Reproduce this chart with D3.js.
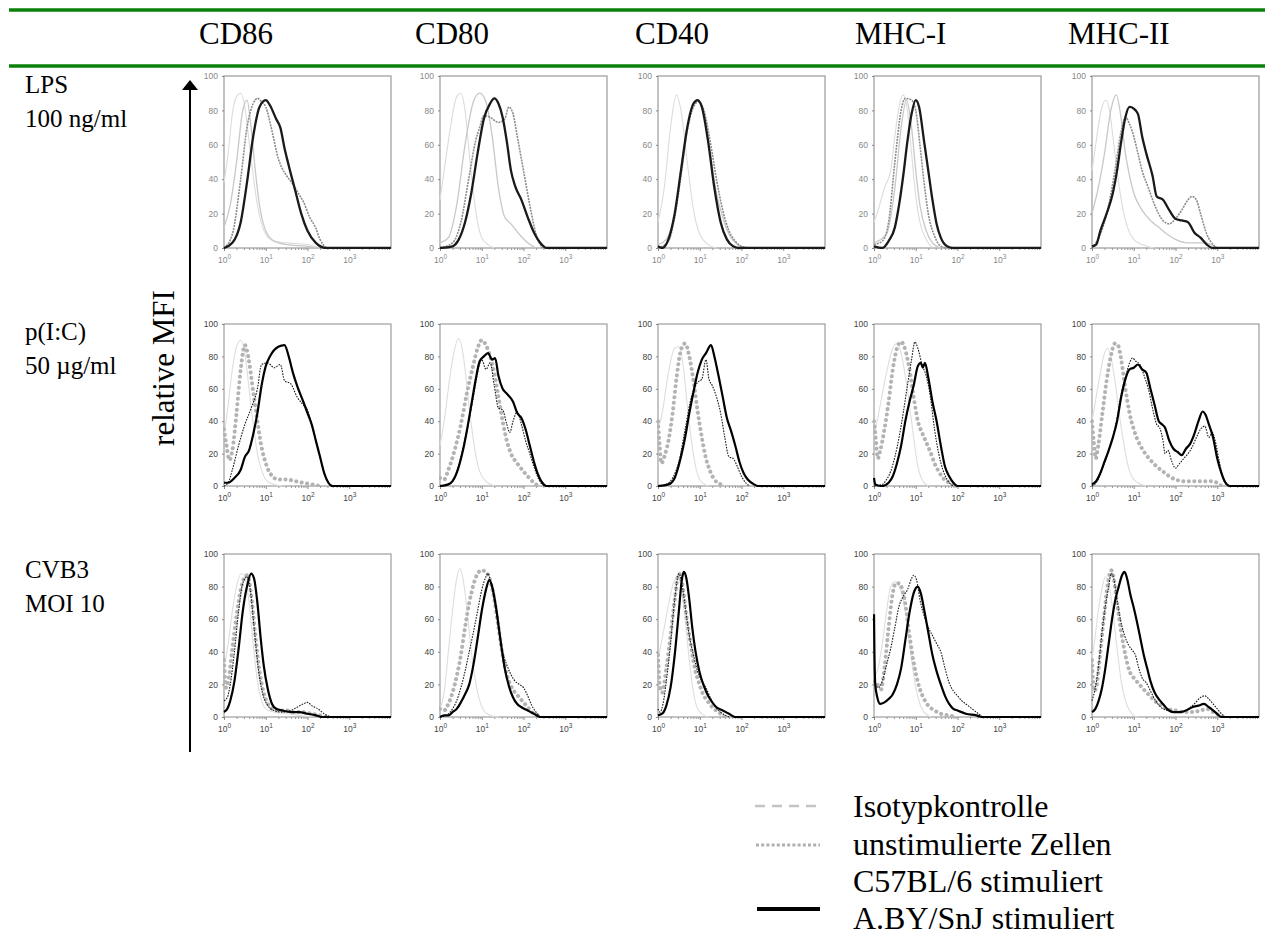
<!DOCTYPE html>
<html>
<head>
<meta charset="utf-8">
<script src="https://cdn.jsdelivr.net/npm/d3@7"></script>
<style>
  body { margin: 0; background: #fff; }
  .tick text { font-family: Arial, "Liberation Sans", sans-serif; }
</style>
</head>
<body>
<script>
// column / row labels
var markers = ["CD86", "CD80", "CD40", "MHC-I", "MHC-II"];
var treatments = [["LPS", "100 ng/ml"], ["p(I:C)", "50 µg/ml"], ["CVB3", "MOI 10"]];
var seriesNames = ["Isotypkontrolle", "unstimulierte Zellen", "C57BL/6 stimuliert", "A.BY/SnJ stimuliert"];
var xTickExp = [0, 1, 2, 3];
var yTicks = [0, 20, 40, 60, 80, 100];

// each panel: [isotype, unstimulated, C57BL/6, A.BY/SnJ], points are [log10 intensity, % of max]
var lpsCD86 = [
  [[0,38],[0.1,55],[0.2,78],[0.3,88],[0.4,90],[0.5,82],[0.6,62],[0.7,42],[0.8,25],[0.9,14],[1.0,8],[1.2,4],[1.5,3],[2.0,2],[2.3,0]],
  [[0,12],[0.15,25],[0.3,50],[0.45,80],[0.55,86],[0.65,70],[0.75,45],[0.85,25],[1.0,10],[1.2,4],[1.5,2],[2.0,1],[2.3,0]],
  [[0,0],[0.2,8],[0.4,40],[0.55,70],[0.7,84],[0.8,87],[0.9,85],[1.0,82],[1.15,68],[1.3,52],[1.4,46],[1.5,42],[1.65,37],[1.8,31],[1.9,27],[2.05,18],[2.19,12],[2.3,5],[2.45,0]],
  [[0,0],[0.2,3],[0.4,15],[0.55,38],[0.7,65],[0.85,82],[1.0,86],[1.1,83],[1.25,75],[1.35,70],[1.45,58],[1.55,48],[1.7,34],[1.85,20],[2.0,10],[2.2,3],[2.45,0],[4,0]]
];
var lpsCD80 = [
  [[0,28],[0.1,45],[0.25,70],[0.4,88],[0.5,90],[0.6,80],[0.7,55],[0.8,32],[0.9,15],[1.0,6],[1.15,2],[1.3,0]],
  [[0,3],[0.2,6],[0.4,25],[0.6,60],[0.8,85],[0.95,90],[1.1,85],[1.25,65],[1.4,35],[1.55,18],[1.7,14],[1.9,8],[2.1,3],[2.3,0]],
  [[0,0],[0.3,3],[0.5,15],[0.7,42],[0.85,62],[0.95,70],[1.05,77],[1.2,76],[1.4,73],[1.55,75],[1.65,82],[1.75,78],[1.85,65],[2.0,45],[2.15,25],[2.3,8],[2.45,0]],
  [[0,0],[0.3,1],[0.45,5],[0.6,15],[0.75,32],[0.9,55],[1.05,75],[1.2,84],[1.3,87],[1.4,84],[1.5,76],[1.6,62],[1.7,45],[1.8,36],[1.95,28],[2.1,18],[2.25,9],[2.4,3],[2.55,0],[4,0]]
];
var lpsCD40 = [
  [[0,15],[0.15,35],[0.3,70],[0.44,89],[0.55,80],[0.7,50],[0.85,22],[1.0,8],[1.2,2],[1.4,0]],
  [[0,2],[0.2,5],[0.4,20],[0.6,55],[0.8,80],[0.95,86],[1.1,78],[1.25,55],[1.4,32],[1.55,18],[1.7,8],[1.9,2],[2.1,0]],
  [[0,0],[0.25,4],[0.4,18],[0.55,42],[0.7,68],[0.85,82],[0.97,85],[1.1,80],[1.25,62],[1.4,40],[1.55,22],[1.7,10],[1.85,4],[2.0,1],[2.2,0]],
  [[0,1],[0.1,0],[0.25,5],[0.4,20],[0.55,45],[0.7,70],[0.85,84],[0.95,86],[1.05,82],[1.2,62],[1.35,35],[1.5,15],[1.65,5],[1.8,1],[1.95,0],[4,0]]
];
var lpsMHCI = [
  [[0,15],[0.1,22],[0.25,35],[0.4,45],[0.5,65],[0.6,82],[0.7,89],[0.8,80],[0.9,55],[1.0,30],[1.1,15],[1.25,5],[1.4,0]],
  [[0,3],[0.3,8],[0.5,35],[0.65,70],[0.78,86],[0.9,70],[1.0,45],[1.1,25],[1.25,10],[1.4,3],[1.6,0]],
  [[0,2],[0.2,4],[0.35,15],[0.5,50],[0.65,80],[0.75,87],[0.9,86],[1.0,80],[1.1,60],[1.2,38],[1.3,20],[1.45,7],[1.6,1],[1.75,0]],
  [[0,1],[0.2,0],[0.35,4],[0.5,12],[0.6,25],[0.7,42],[0.8,62],[0.9,78],[1.0,86],[1.08,82],[1.2,62],[1.3,45],[1.4,28],[1.5,14],[1.6,6],[1.75,1],[1.9,0],[4,0]]
];
var lpsMHCII = [
  [[0,45],[0.1,62],[0.2,78],[0.33,86],[0.42,80],[0.5,65],[0.6,45],[0.7,28],[0.85,12],[1.0,5],[1.2,2],[1.5,0]],
  [[0,20],[0.15,35],[0.3,55],[0.45,80],[0.58,89],[0.7,75],[0.8,55],[0.9,42],[1.0,32],[1.2,22],[1.4,16],[1.6,12],[1.8,8],[2.0,5],[2.3,3],[2.7,3],[3.0,0]],
  [[0,0],[0.2,8],[0.4,25],[0.55,45],[0.7,68],[0.8,76],[0.9,72],[1.0,65],[1.1,55],[1.2,45],[1.35,35],[1.5,25],[1.7,16],[1.85,14],[2.0,17],[2.15,22],[2.3,28],[2.4,30],[2.5,28],[2.6,20],[2.75,8],[2.9,2],[3.0,0]],
  [[0,1],[0.1,2],[0.2,10],[0.35,20],[0.5,32],[0.6,45],[0.7,62],[0.8,76],[0.9,82],[1.0,81],[1.1,78],[1.2,65],[1.3,55],[1.45,42],[1.55,30],[1.7,28],[1.85,22],[2.0,17],[2.15,16],[2.3,15],[2.45,9],[2.6,6],[2.75,2],[2.9,0],[4,0]]
];

var picCD86 = [
  [[0,30],[0.1,50],[0.2,72],[0.3,86],[0.4,90],[0.5,82],[0.6,60],[0.7,38],[0.8,20],[0.9,10],[1.0,4],[1.2,1],[1.4,0]],
  [[0,35],[0.06,25],[0.13,16],[0.2,22],[0.3,45],[0.4,72],[0.5,87],[0.58,80],[0.7,58],[0.8,40],[0.9,24],[1.0,14],[1.1,8],[1.3,4],[1.5,4],[1.7,3],[1.9,2],[2.1,1],[2.3,0]],
  [[0,0],[0.1,2],[0.2,10],[0.35,25],[0.5,38],[0.65,48],[0.8,60],[0.9,75],[1.05,76],[1.2,73],[1.35,75],[1.45,65],[1.6,63],[1.75,55],[1.9,50],[2.0,47],[2.1,38],[2.2,28],[2.3,18],[2.4,8],[2.5,2],[2.6,0]],
  [[0,2],[0.1,2],[0.25,5],[0.4,10],[0.5,18],[0.6,22],[0.7,32],[0.8,45],[0.9,62],[1.0,74],[1.1,80],[1.3,86],[1.45,87],[1.55,80],[1.65,70],[1.75,62],[1.9,52],[2.0,45],[2.1,38],[2.2,28],[2.3,18],[2.4,8],[2.5,2],[2.6,0],[4,0]]
];
var picCD80 = [
  [[0,25],[0.1,40],[0.2,60],[0.3,78],[0.45,91],[0.55,82],[0.65,60],[0.75,38],[0.85,20],[0.95,9],[1.1,3],[1.3,0]],
  [[0,5],[0.1,4],[0.2,10],[0.35,22],[0.5,38],[0.65,58],[0.8,75],[0.9,85],[1.0,90],[1.1,87],[1.2,80],[1.3,70],[1.4,55],[1.5,40],[1.6,28],[1.7,20],[1.85,14],[2.0,9],[2.1,6],[2.25,2],[2.35,0]],
  [[0,0],[0.2,1],[0.35,5],[0.5,18],[0.65,35],[0.8,55],[0.9,70],[1.0,78],[1.1,72],[1.2,76],[1.3,62],[1.4,48],[1.5,47],[1.6,38],[1.67,33],[1.75,40],[1.85,46],[1.95,38],[2.05,28],[2.15,20],[2.25,12],[2.35,5],[2.45,1],[2.55,0]],
  [[0,0],[0.2,1],[0.3,3],[0.45,12],[0.55,22],[0.65,35],[0.75,50],[0.85,65],[0.95,77],[1.05,80],[1.15,82],[1.25,78],[1.32,79],[1.4,68],[1.5,60],[1.6,57],[1.75,52],[1.85,45],[1.95,42],[2.05,35],[2.15,25],[2.25,15],[2.35,7],[2.45,2],[2.55,0],[4,0]]
];
var picCD40 = [
  [[0,35],[0.1,45],[0.25,70],[0.4,85],[0.5,86],[0.6,75],[0.7,50],[0.8,28],[0.9,12],[1.0,4],[1.2,0]],
  [[0,40],[0.04,25],[0.08,14],[0.15,18],[0.25,28],[0.35,45],[0.45,68],[0.55,84],[0.65,88],[0.75,80],[0.85,65],[0.95,46],[1.05,30],[1.15,17],[1.25,9],[1.35,4],[1.5,1],[1.6,0]],
  [[0,0],[0.2,1],[0.35,5],[0.5,15],[0.65,35],[0.8,55],[0.95,64],[1.05,66],[1.15,78],[1.22,66],[1.3,62],[1.4,55],[1.5,45],[1.6,30],[1.7,18],[1.8,17],[1.9,12],[2.0,6],[2.1,2],[2.2,0]],
  [[0,0],[0.25,1],[0.4,5],[0.55,18],[0.65,30],[0.75,45],[0.85,58],[0.95,70],[1.05,78],[1.15,82],[1.27,87],[1.35,80],[1.45,68],[1.55,55],[1.65,42],[1.75,34],[1.85,25],[1.95,15],[2.05,8],[2.15,4],[2.3,1],[2.4,0],[4,0]]
];
var picMHCI = [
  [[0,30],[0.15,50],[0.3,70],[0.45,85],[0.55,88],[0.65,82],[0.75,68],[0.85,50],[0.95,30],[1.05,12],[1.15,4],[1.3,0]],
  [[0,40],[0.04,30],[0.09,17],[0.15,22],[0.25,35],[0.35,52],[0.45,72],[0.55,85],[0.65,89],[0.75,84],[0.85,72],[0.95,55],[1.05,40],[1.15,33],[1.25,27],[1.35,21],[1.45,14],[1.55,9],[1.65,5],[1.8,2],[1.9,0]],
  [[0,0],[0.2,1],[0.3,4],[0.4,9],[0.5,18],[0.6,30],[0.7,45],[0.8,62],[0.9,78],[0.98,89],[1.05,85],[1.15,75],[1.25,68],[1.35,55],[1.45,35],[1.55,20],[1.65,10],[1.75,4],[1.9,0]],
  [[0,5],[0.03,1],[0.2,0],[0.35,2],[0.45,6],[0.55,14],[0.65,25],[0.75,40],[0.85,52],[0.95,62],[1.05,74],[1.12,76],[1.17,73],[1.22,76],[1.3,67],[1.4,52],[1.5,40],[1.6,25],[1.7,12],[1.8,6],[1.9,2],[2.0,0],[4,0]]
];
var picMHCII = [
  [[0,40],[0.1,55],[0.2,70],[0.3,82],[0.38,85],[0.45,80],[0.55,65],[0.65,45],[0.75,28],[0.85,14],[0.95,6],[1.1,2],[1.3,0]],
  [[0,40],[0.04,28],[0.09,17],[0.15,25],[0.25,45],[0.35,65],[0.45,80],[0.55,88],[0.62,87],[0.7,78],[0.8,60],[0.9,45],[1.0,35],[1.1,28],[1.25,21],[1.4,16],[1.55,12],[1.7,9],[1.85,6],[2.0,4],[2.2,3],[2.5,3],[2.8,3],[3.0,2],[3.1,0]],
  [[0,0],[0.1,2],[0.2,7],[0.3,14],[0.4,22],[0.5,30],[0.6,42],[0.7,57],[0.8,67],[0.9,76],[0.97,79],[1.05,77],[1.15,75],[1.25,68],[1.35,60],[1.45,48],[1.55,38],[1.62,36],[1.7,28],[1.75,20],[1.82,22],[1.9,16],[2.0,11],[2.1,14],[2.2,17],[2.3,20],[2.4,24],[2.5,30],[2.6,35],[2.7,37],[2.8,30],[2.88,33],[2.95,28],[3.05,15],[3.15,4],[3.25,0]],
  [[0,1],[0.1,3],[0.2,8],[0.3,15],[0.4,22],[0.5,30],[0.6,40],[0.7,55],[0.8,66],[0.9,72],[1.0,73],[1.1,75],[1.2,72],[1.3,70],[1.4,60],[1.5,50],[1.6,40],[1.68,38],[1.75,36],[1.85,28],[1.95,23],[2.05,21],[2.15,19],[2.25,23],[2.35,26],[2.45,32],[2.55,40],[2.65,46],[2.72,44],[2.8,38],[2.9,30],[3.0,17],[3.1,8],[3.2,2],[3.3,0],[4,0]]
];

var cvbCD86 = [
  [[0,30],[0.1,45],[0.2,65],[0.3,80],[0.42,88],[0.5,86],[0.6,70],[0.7,45],[0.8,22],[0.9,10],[1.0,5],[1.2,3],[1.5,2],[1.8,1],[2.1,0]],
  [[0,35],[0.05,18],[0.12,25],[0.2,42],[0.3,62],[0.4,78],[0.5,86],[0.56,87],[0.65,75],[0.75,50],[0.85,28],[0.95,15],[1.05,8],[1.15,5],[1.3,4],[1.5,4],[1.7,3],[1.9,3],[2.1,2],[2.3,1],[2.5,0]],
  [[0,10],[0.08,12],[0.15,20],[0.25,40],[0.35,65],[0.45,82],[0.55,86],[0.63,78],[0.72,55],[0.82,30],[0.92,15],[1.05,7],[1.2,4],[1.4,3],[1.6,4],[1.75,6],[1.9,8],[2.0,9],[2.1,7],[2.25,5],[2.4,2],[2.55,0]],
  [[0,3],[0.08,5],[0.15,10],[0.25,22],[0.35,42],[0.45,65],[0.55,80],[0.65,88],[0.72,85],[0.8,70],[0.88,48],[0.95,32],[1.05,17],[1.15,8],[1.25,5],[1.4,4],[1.6,3],[1.8,3],[2.0,2],[2.2,1],[2.35,0],[4,0]]
];
var cvbCD80 = [
  [[0,5],[0.1,15],[0.2,40],[0.3,65],[0.4,85],[0.47,91],[0.55,85],[0.65,65],[0.75,40],[0.85,22],[0.95,10],[1.05,4],[1.2,1],[1.4,0]],
  [[0,5],[0.1,4],[0.2,8],[0.3,15],[0.4,25],[0.5,38],[0.6,55],[0.7,70],[0.8,81],[0.9,88],[1.0,90],[1.1,89],[1.2,84],[1.3,72],[1.4,55],[1.5,38],[1.6,26],[1.7,19],[1.8,15],[1.9,12],[2.0,9],[2.1,6],[2.2,3],[2.35,1],[2.45,0]],
  [[0,0],[0.15,1],[0.3,5],[0.4,10],[0.5,18],[0.6,28],[0.7,40],[0.8,52],[0.9,65],[1.0,78],[1.1,86],[1.15,88],[1.22,82],[1.3,72],[1.4,55],[1.5,40],[1.6,32],[1.7,26],[1.8,22],[1.9,20],[2.0,18],[2.1,13],[2.2,7],[2.3,3],[2.4,0]],
  [[0,0],[0.1,1],[0.2,1],[0.3,3],[0.4,5],[0.5,9],[0.6,14],[0.7,20],[0.8,32],[0.9,48],[1.0,65],[1.1,78],[1.18,84],[1.25,80],[1.35,66],[1.45,47],[1.55,30],[1.65,19],[1.75,12],[1.85,8],[1.95,6],[2.1,4],[2.25,2],[2.4,0],[4,0]]
];
var cvbCD40 = [
  [[0,35],[0.1,48],[0.2,62],[0.3,75],[0.4,84],[0.48,86],[0.55,80],[0.65,60],[0.75,35],[0.85,15],[0.95,5],[1.1,1],[1.2,0]],
  [[0,38],[0.05,18],[0.1,15],[0.2,30],[0.3,50],[0.4,72],[0.5,88],[0.58,82],[0.68,62],[0.78,45],[0.88,30],[0.98,21],[1.08,14],[1.18,10],[1.3,6],[1.45,3],[1.6,0]],
  [[0,5],[0.05,3],[0.12,8],[0.2,22],[0.3,45],[0.4,72],[0.5,88],[0.57,82],[0.65,68],[0.75,50],[0.85,38],[0.95,28],[1.05,22],[1.15,18],[1.25,12],[1.35,7],[1.5,3],[1.7,0]],
  [[0,1],[0.1,2],[0.2,7],[0.3,18],[0.4,38],[0.5,65],[0.57,84],[0.62,89],[0.68,85],[0.75,72],[0.82,55],[0.9,40],[1.0,27],[1.1,19],[1.2,13],[1.3,9],[1.4,6],[1.55,4],[1.7,2],[1.85,0],[4,0]]
];
var cvbMHCI = [
  [[0,25],[0.1,30],[0.2,45],[0.3,65],[0.4,80],[0.5,83],[0.6,80],[0.7,72],[0.8,55],[0.9,35],[1.0,18],[1.1,8],[1.2,3],[1.35,0]],
  [[0,22],[0.08,20],[0.17,17],[0.25,30],[0.35,55],[0.45,76],[0.52,82],[0.6,82],[0.68,78],[0.76,68],[0.84,52],[0.92,38],[1.0,27],[1.1,17],[1.2,11],[1.3,7],[1.45,4],[1.6,2],[1.8,1],[1.95,0]],
  [[0,22],[0.1,18],[0.2,22],[0.3,32],[0.4,42],[0.5,55],[0.6,68],[0.7,74],[0.8,78],[0.9,85],[0.95,87],[1.02,84],[1.1,72],[1.2,62],[1.3,55],[1.4,50],[1.5,45],[1.6,40],[1.7,30],[1.8,21],[1.9,16],[2.0,13],[2.1,10],[2.2,8],[2.3,6],[2.4,4],[2.5,2],[2.6,0]],
  [[0,63],[0.01,40],[0.03,20],[0.08,12],[0.15,8],[0.25,9],[0.35,11],[0.45,14],[0.55,20],[0.65,30],[0.75,47],[0.85,64],[0.95,76],[1.05,80],[1.12,76],[1.2,66],[1.3,52],[1.4,38],[1.5,28],[1.6,20],[1.7,13],[1.8,8],[1.9,5],[2.0,4],[2.2,2],[2.45,1],[2.6,0],[4,0]]
];
var cvbMHCII = [
  [[0,35],[0.08,50],[0.15,65],[0.25,80],[0.32,86],[0.4,82],[0.5,65],[0.6,42],[0.7,22],[0.8,10],[0.9,4],[1.0,1],[1.1,0]],
  [[0,35],[0.05,16],[0.1,18],[0.18,35],[0.28,60],[0.38,82],[0.46,90],[0.52,85],[0.6,70],[0.7,52],[0.8,38],[0.9,28],[1.0,24],[1.1,21],[1.2,18],[1.35,14],[1.5,10],[1.65,7],[1.8,5],[2.0,4],[2.2,3],[2.4,3],[2.6,4],[2.75,5],[2.9,3],[3.05,1],[3.15,0]],
  [[0,10],[0.08,18],[0.16,32],[0.24,52],[0.32,68],[0.4,80],[0.46,88],[0.52,85],[0.6,72],[0.68,60],[0.78,50],[0.88,44],[0.96,41],[1.04,38],[1.12,30],[1.2,24],[1.3,21],[1.4,16],[1.5,11],[1.65,6],[1.8,4],[2.0,3],[2.15,3],[2.3,5],[2.45,8],[2.6,12],[2.7,13],[2.8,11],[2.9,8],[3.0,5],[3.1,2],[3.2,0]],
  [[0,3],[0.08,5],[0.16,10],[0.24,18],[0.32,30],[0.4,45],[0.48,60],[0.56,72],[0.64,80],[0.72,87],[0.78,89],[0.84,85],[0.92,75],[1.0,67],[1.08,58],[1.16,48],[1.24,38],[1.32,30],[1.4,22],[1.5,15],[1.6,11],[1.7,8],[1.8,5],[1.95,3],[2.1,3],[2.25,4],[2.4,6],[2.55,7],[2.68,8],[2.8,6],[2.95,3],[3.1,0],[4,0]]
];

var panels = [
  [lpsCD86, lpsCD80, lpsCD40, lpsMHCI, lpsMHCII],
  [picCD86, picCD80, picCD40, picMHCI, picMHCII],
  [cvbCD86, cvbCD80, cvbCD40, cvbMHCI, cvbMHCII]
];

// layout
var width = 1265, height = 949;
var colX = [224, 440, 658, 874, 1092], pw = 167;
var rowY = [76, 324, 554], rowH = [172, 162, 163];
var headX = [199, 415, 635, 855, 1068];
var serif = "'Liberation Serif', 'Times New Roman', serif";

// line styles: first row (LPS) was scanned differently
var styleStim = [
  {stroke: "#dedede", w: 1.1, dash: null},
  {stroke: "#b3b3b3", w: 4, dash: "0.1,5.4", cap: "round"},
  {stroke: "#1a1a1a", w: 1.1, dash: "1.6,1.2"},
  {stroke: "#000", w: 2.2, dash: null}
];
var styleLps = [
  {stroke: "#dcdcdc", w: 1.1, dash: null},
  {stroke: "#c8c8c8", w: 1.3, dash: null},
  {stroke: "#8c8c8c", w: 1.6, dash: "2,1"},
  {stroke: "#1a1a1a", w: 2.3, dash: null}
];

var svg = d3.select("body").append("svg")
  .attr("width", width).attr("height", height);

// green rules
[10, 66].forEach(function(yy) {
  svg.append("line").attr("x1", 9).attr("x2", width).attr("y1", yy).attr("y2", yy)
    .attr("stroke", "#0a800a").attr("stroke-width", 3.5);
});

// column headers
svg.selectAll(".head").data(markers).enter().append("text")
  .attr("class", "head")
  .attr("x", function(d, i) { return headX[i]; })
  .attr("y", 44)
  .style("font-family", serif).style("font-size", "31px")
  .text(function(d) { return d; });

// row labels
var rowBase = [93, 340, 578];
treatments.forEach(function(t, r) {
  t.forEach(function(line, k) {
    svg.append("text").attr("x", 25).attr("y", rowBase[r] + k * 34)
      .style("font-family", serif).style("font-size", "25px")
      .text(line);
  });
});

// vertical arrow + label
svg.append("line").attr("x1", 190).attr("x2", 190).attr("y1", 88).attr("y2", 752)
  .attr("stroke", "#000").attr("stroke-width", 2);
svg.append("path").attr("d", "M182,90 L198,90 L190,80 Z").attr("fill", "#000");
svg.append("text")
  .attr("transform", "translate(174,368) rotate(-90)")
  .attr("text-anchor", "middle")
  .style("font-family", serif).style("font-size", "31px")
  .text("relative MFI");

var minors = [];
[1, 10, 100, 1000].forEach(function(b) {
  for (var k = 2; k < 10; k++) minors.push(b * k);
});

function drawPanel(r, c) {
  var h = rowH[r];
  var styles = r == 0 ? styleLps : styleStim;
  var g = svg.append("g").attr("transform", "translate(" + colX[c] + "," + rowY[r] + ")");

  var x = d3.scaleLog().domain([1, 1e4]).range([0, pw]);
  var y = d3.scaleLinear().domain([0, 100]).range([h, 0]);

  var clipId = "clip" + r + "_" + c;
  g.append("clipPath").attr("id", clipId).append("rect")
    .attr("x", -1).attr("y", -1).attr("width", pw + 2).attr("height", h + 2);

  g.append("rect").attr("width", pw).attr("height", h)
    .attr("fill", "none").attr("stroke", r == 0 ? "#a8a8a8" : "#8a8a8a")
    .attr("stroke-width", r == 0 ? 1.4 : 1);

  var labelCol = r == 0 ? "#888" : "#444";

  var yAxis = g.append("g").call(d3.axisLeft(y).tickValues(yTicks).tickSize(2).tickSizeOuter(0));
  yAxis.select(".domain").remove();
  yAxis.selectAll("line").attr("stroke", "#888");
  yAxis.selectAll("text").attr("fill", labelCol).style("font-size", "8.5px").attr("x", -6);

  var xMinor = g.append("g").attr("transform", "translate(0," + h + ")")
    .call(d3.axisBottom(x).tickValues(minors).tickSize(2).tickFormat(""));
  xMinor.select(".domain").remove();
  xMinor.selectAll("line").attr("stroke", "#999");

  var xAxis = g.append("g").attr("transform", "translate(0," + h + ")")
    .call(d3.axisBottom(x).tickValues(xTickExp.map(function(e) { return Math.pow(10, e); }))
      .tickSize(3).tickFormat(""));
  xAxis.select(".domain").remove();
  xAxis.selectAll("line").attr("stroke", "#888");
  xAxis.selectAll(".tick").append("text")
    .attr("y", 15).attr("text-anchor", "middle").attr("fill", labelCol)
    .style("font-size", "8.5px")
    .each(function(d, i) {
      var t = d3.select(this);
      t.append("tspan").text("10");
      t.append("tspan").attr("dy", -4).style("font-size", "6.5px").text(xTickExp[i]);
    });

  var line = d3.line()
    .x(function(d) { return x(Math.pow(10, d[0])); })
    .y(function(d) { return y(d[1]); })
    .curve(d3.curveMonotoneX);

  g.append("g").attr("clip-path", "url(#" + clipId + ")")
    .selectAll("path").data(panels[r][c]).enter().append("path")
    .attr("d", line)
    .attr("fill", "none")
    .attr("stroke", function(d, i) { return styles[i].stroke; })
    .attr("stroke-width", function(d, i) { return styles[i].w; })
    .attr("stroke-dasharray", function(d, i) { return styles[i].dash; })
    .attr("stroke-linecap", function(d, i) { return styles[i].cap || "butt"; })
    .attr("stroke-linejoin", "round");
}

for (var r = 0; r < 3; r++) {
  for (var c = 0; c < 5; c++) drawPanel(r, c);
}

// legend
var legY = [807, 845, 882, 919];
var leg = svg.append("g");
leg.append("line").attr("x1", 755).attr("x2", 820).attr("y1", 806).attr("y2", 806)
  .attr("stroke", "#c4c4c4").attr("stroke-width", 2.5).attr("stroke-dasharray", "10,7");
leg.append("line").attr("x1", 756).attr("x2", 820).attr("y1", 845).attr("y2", 845)
  .attr("stroke", "#b0b0b0").attr("stroke-width", 3).attr("stroke-dasharray", "3,2.2");
leg.append("line").attr("x1", 757).attr("x2", 820).attr("y1", 909).attr("y2", 909)
  .attr("stroke", "#000").attr("stroke-width", 4);
leg.selectAll("text").data(seriesNames).enter().append("text")
  .attr("x", 853)
  .attr("y", function(d, i) { return legY[i] + 10; })
  .style("font-family", serif).style("font-size", "32px")
  .text(function(d) { return d; });
</script>
</body>
</html>
